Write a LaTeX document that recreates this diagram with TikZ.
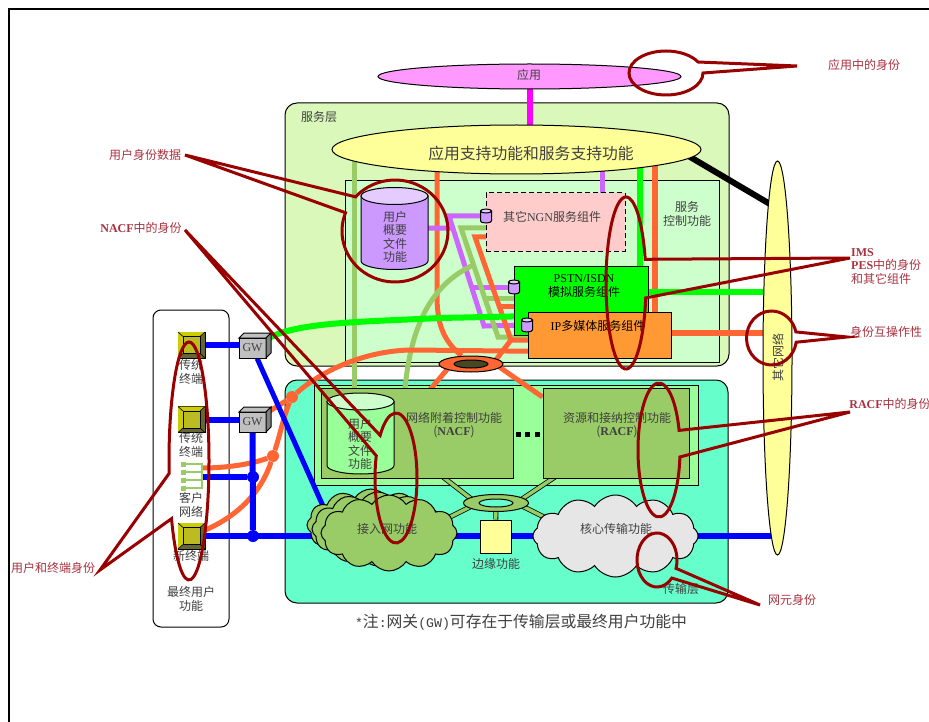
\documentclass[tikz,border=0pt]{standalone}
\usepackage{fontspec}
\setmainfont{Noto Sans CJK SC}
\newfontfamily\latinfont{Liberation Serif}
\newfontfamily\latinmono{Liberation Mono}
\usetikzlibrary{positioning, shapes.geometric, shapes.symbols}
\definecolor{bgApp}{HTML}{FF99FF}
\definecolor{bgYellow}{HTML}{FFFF99}
\definecolor{bgService}{HTML}{D9F8BA}
\definecolor{bgControl}{HTML}{CCFFCC}
\definecolor{bgTransport}{HTML}{66FFCC}
\definecolor{bgGroup}{HTML}{99FF99}
\definecolor{bgPink}{HTML}{FFCCCC}
\definecolor{bgOrange}{HTML}{FF9933}
\definecolor{bgCore}{HTML}{E6E6E6}
\definecolor{bgGate}{HTML}{C0C0C0}
\definecolor{linePurple}{HTML}{CC66FF}
\definecolor{lineLime}{HTML}{99CC66}
\definecolor{lineOrange}{HTML}{FF6633}
\definecolor{lineMagenta}{HTML}{FF00FF}
\definecolor{cylPurple}{HTML}{CC99FF}
\definecolor{cylPurpleTop}{HTML}{E5CCFF}
\definecolor{calloutRed}{HTML}{990000}
\definecolor{textRed}{HTML}{A83240}
\definecolor{textDark}{HTML}{404040}
\definecolor{termLight}{HTML}{CCCC00}
\definecolor{termDark}{HTML}{666633}
\definecolor{termFace}{HTML}{BBBB22}
\pgfdeclarelayer{panels}
\pgfdeclarelayer{wires}
\pgfsetlayers{panels,wires,main}
\tikzset{
  lbl/.style={font=\fontsize{12}{13.5}\selectfont, align=center, text=textDark, inner sep=0pt},
  redlbl/.style={lbl, text=textRed},
  panel/.style={draw=black, line width=1pt, inner sep=0pt, rounded corners=#1},
  panel/.default=0pt,
  oval/.style={ellipse, draw=black, line width=1pt, inner sep=0pt},
  wire/.style={line width=#1, line join=miter},
  wire/.default=5pt,
  port/.style={minimum width=11pt, minimum height=14pt, inner sep=0pt},
  bubble/.style={cloud, cloud puffs=12, cloud puff arc=115, aspect=2, draw=black, line width=1pt, inner sep=0pt},
  limebar/.style={draw=black, line width=.8pt, double=lineLime, double distance=3.4pt},
  dot/.style={circle, inner sep=0pt, minimum size=#1},
  callout/.style={draw=calloutRed, line width=3pt},
  pics/drumicon/.style n args={5}{code={
    \draw[black, line width=1pt, fill=#1] (-#3,-#4) -- (-#3,#4) arc[start angle=180, end angle=0, x radius=#3, y radius=#5] -- (#3,-#4) -- cycle;
    \draw[black, line width=1pt, fill=#2] (0,-#4) ellipse[x radius=#3, y radius=#5];
  }},
  terminalicon/.pic={
    \draw[black, line width=1pt, fill=termDark] (-13.5,-13) rectangle (13.5,13);
    \fill[termLight] (-13.5,-13) -- (13.5,-13) -- (8.5,-8.5) -- (-8.5,-8.5) -- (-8.5,8.5) -- (-13.5,13) -- cycle;
    \draw[black, line width=1pt, fill=termFace] (-8.5,-8.5) rectangle (8.5,8.5);
    \draw[black, line width=.6pt] (-13.5,-13) -- (-8.5,-8.5) (13.5,-13) -- (8.5,-8.5) (-13.5,13) -- (-8.5,8.5) (13.5,13) -- (8.5,8.5);
  },
  clienticon/.pic={
    \foreach \yy in {-12,-4,4,12} {
      \draw[lineLime, line width=2.6pt] (-8,\yy) -- (10,\yy);
      \fill[lineLime] (-11,\yy-2.5) rectangle (-6,\yy+2.5);
    }
    \draw[lineLime, line width=2.6pt] (10,-13) -- (10,13);
  },
  gatewayicon/.pic={
    \draw[black, line width=1pt, fill=bgGate] (-13.5,-10) -- ++(5,-5) -- ++(27,0) -- (13.5,-10) -- cycle;
    \draw[black, line width=1pt, fill=gray] (13.5,-10) -- ++(5,-5) -- ++(0,20) -- (13.5,10) -- cycle;
  },
}
\newcommand{\lat}[1]{{\latinfont #1}}
\begin{document}
\begin{tikzpicture}[x=1pt, y=-1pt]
  \useasboundingbox (0,0) rectangle (929,722);

  % layers
  \begin{pgfonlayer}{panels}
    \fill[white] (0,0) rectangle (929,722);
    \draw[line width=2pt] (9,722) -- (9,9) -- (929,9);
    \node[panel=12pt, fill=bgService, minimum width=444pt, minimum height=263pt] (serviceLayer) at (507,234.5) {};
    \node[panel, fill=bgControl, minimum width=374pt, minimum height=181pt] (controlPanel) at (532,271.5) {};
    \node[panel=12pt, fill=bgTransport, minimum width=443pt, minimum height=223pt] (transportLayer) at (506.5,491.5) {};
    \node[panel, fill=bgGroup, minimum width=384pt, minimum height=100pt] (groupPanel) at (506,435) {};
    \node[panel=8pt, fill=white, minimum width=76pt, minimum height=317pt] (endUser) at (191,468.5) {};
  \end{pgfonlayer}

  \node[oval, fill=bgApp, minimum width=303pt, minimum height=25pt] (app) at (529.5,76.5) {};
  \node[lbl] (appText) at (529,75) {应用};
  \node[oval, fill=bgYellow, minimum width=369pt, minimum height=49pt] (appSup) at (516.5,149.5) {};
  \node[lbl, font=\fontsize{15.8}{17}\selectfont] (appSupText) at (531,153) {应用支持功能和服务支持功能};
  \node[lbl] (serviceText) at (319,117) {服务层};
  \node[lbl] (controlText) at (687,214) {服务\\控制功能};

  \node[port, minimum width=67pt, minimum height=82pt] (profileA) at (394.5,228.5) {};
  \pic at (profileA) {drumicon={cylPurple}{cylPurpleTop}{33.5}{32.5}{8.5}};
  \node[lbl, font=\fontsize{12}{13.3}\selectfont] (profileAText) at (395,237) {用户\\概要\\文件\\功能};

  \node[panel, dash pattern=on 5pt off 3pt, fill=bgPink, minimum width=139pt, minimum height=58pt] (ngnBox) at (555.5,222) {};
  \node[lbl] (ngnText) at (552,217) {其它\lat{NGN}服务组件};
  \node[panel, fill=green, minimum width=134pt, minimum height=69pt] (pstnBox) at (581,300.5) {};
  \node[lbl, text=black] (pstnText) at (584,286) {\lat{PSTN/ISDN}\\模拟服务组件};
  \node[panel, fill=bgOrange, minimum width=143pt, minimum height=46pt] (ipBox) at (599.5,335) {};
  \node[lbl, text=black] (ipText) at (598,326) {\lat{IP}多媒体服务组件};
  \node[port] (ngnPort) at (486,216) {};
  \node[port] (pstnPort) at (514,287) {};
  \node[port] (ipPort) at (527,325) {};
  \pic at (ngnPort) {drumicon={cylPurple}{cylPurpleTop}{5.5}{5}{2}};
  \pic at (pstnPort) {drumicon={cylPurple}{cylPurpleTop}{5.5}{5}{2}};
  \pic at (ipPort) {drumicon={cylPurple}{cylPurpleTop}{5.5}{5}{2}};

  \node[oval, fill=lineOrange, minimum width=64pt, minimum height=16pt] (ringTop) at (471,364) {};
  \node[oval, fill=termDark!70!black, minimum width=34pt, minimum height=8pt] (ringTopHole) at (471,364) {};

  \node[panel, fill=lineLime, minimum width=192pt, minimum height=90pt] (nacfBox) at (417,433) {};
  \node[panel, fill=lineLime, minimum width=146pt, minimum height=90pt] (racfBox) at (616,433) {};
  \node[lbl] (nacfText) at (454,425) {网络附着控制功能\\(\lat{\bfseries NACF})};
  \node[lbl] (racfText) at (617,425) {资源和接纳控制功能\\(\lat{\bfseries RACF})};
  \node[port, minimum width=67pt, minimum height=81pt] (profileB) at (360.5,433.5) {};
  \pic at (profileB) {drumicon={bgGroup}{bgControl}{33.5}{32}{8.5}};
  \node[lbl, font=\fontsize{12}{13.3}\selectfont] (profileBText) at (360,444) {用户\\概要\\文件\\功能};
  \foreach \xx in {518,527,537} \fill (\xx-2.5,431.5) rectangle (\xx+2.5,436.5);

  \node[oval, fill=lineLime, minimum width=65pt, minimum height=17pt] (ringLow) at (496,503) {};
  \node[oval, fill=bgTransport, minimum width=34pt, minimum height=8pt] (ringLowHole) at (496,503) {};
  \node[panel, fill=bgYellow, minimum width=31pt, minimum height=33pt] (edgeBox) at (495.5,536.5) {};
  \node[lbl] (edgeText) at (496,564) {边缘功能};

  \node[bubble, fill=lineLime, minimum width=128pt, minimum height=72pt] (accessBack) at (371,525) {};
  \node[bubble, fill=lineLime, minimum width=132pt, minimum height=74pt] (accessMid) at (378,529) {};
  \node[bubble, fill=lineLime, minimum width=136pt, minimum height=76pt] (accessCloud) at (389,533) {};
  \node[lbl] (accessText) at (387,529) {接入网功能};
  \node[bubble, fill=bgCore, minimum width=165pt, minimum height=82pt] (coreCloud) at (615.5,536) {};
  \node[lbl] (coreText) at (616,529) {核心传输功能};
  \node[lbl] (transportText) at (681,589) {传输层};
  \node[lbl, font=\fontsize{15.8}{17}\selectfont] (noteText) at (521,622) {{\fontsize{13.2}{13}\latinmono *}注{\fontsize{13.2}{13}\latinmono :}网关{\fontsize{13.2}{13}\latinmono (GW)}可存在于传输层或最终用户功能中};

  \node[oval, fill=bgYellow, rotate=90, minimum width=394pt, minimum height=29pt] (otherNet) at (777.5,358) {};
  \node[lbl, rotate=90] (otherText) at (778,357) {其它网络};

  \node[minimum width=27pt, minimum height=26pt, inner sep=0pt] (termOldA) at (191.5,345) {};
  \node[minimum width=27pt, minimum height=26pt, inner sep=0pt] (termOldB) at (191.5,419.5) {};
  \node[minimum width=27pt, minimum height=26pt, inner sep=0pt] (termNew) at (191.5,536) {};
  \pic at (termOldA) {terminalicon};
  \pic at (termOldB) {terminalicon};
  \pic at (termNew) {terminalicon};
  \node[minimum width=20pt, minimum height=28pt, inner sep=0pt] (clientNet) at (192,476) {};
  \pic at (clientNet) {clienticon};
  \node[lbl] (termOldAText) at (191,372) {传统\\终端};
  \node[lbl] (termOldBText) at (191,445) {传统\\终端};
  \node[lbl] (clientText) at (191,505) {客户\\网络};
  \node[lbl] (termNewText) at (191,556) {新终端};
  \node[lbl] (endUserText) at (191,599) {最终用户\\功能};

  \node[panel, fill=bgGate, minimum width=27pt, minimum height=20pt] (gwA) at (252.5,348) {};
  \node[panel, fill=bgGate, minimum width=27pt, minimum height=20pt] (gwB) at (252.5,422) {};
  \node[lbl, font=\fontsize{12}{13}\latinfont] (gwAText) at (252.5,348) {GW};
  \node[lbl, font=\fontsize{12}{13}\latinfont] (gwBText) at (252.5,422) {GW};
  \pic at (gwA) {gatewayicon};
  \pic at (gwB) {gatewayicon};

  \node[dot=12pt, fill=blue] (blueDotA) at (253,477) {};
  \node[dot=12pt, fill=blue] (blueDotB) at (253,536) {};
  \node[dot=12pt, fill=lineOrange] (orangeDotA) at (292,397) {};
  \node[dot=12pt, fill=lineOrange] (orangeDotB) at (273,456) {};

  % wires
  \begin{pgfonlayer}{wires}
    \draw[wire=6pt, lineMagenta] (app) -- (app |- appSup);
    \draw[wire=6pt, black] (680,151) -- (775,207);
    \draw[wire, lineLime] (354,0 |- appSup) -- (354,0 |- profileB);
    \draw[wire, lineOrange] (437,0 |- appSup) -- (437,300) .. controls (438,325) and (443,340) .. (ringTop);
    \draw[wire, linePurple] (602,0 |- appSup) -- (602,0 |- ngnBox);
    \draw[wire=6pt, green] (640,0 |- appSup) -- (640,0 |- pstnBox);
    \draw[wire=6pt, lineOrange] (655,0 |- appSup) -- (655,0 |- ipBox);
    \draw[wire=6pt, green] (pstnBox.center |- 0,292) -- (otherNet.center |- 0,292);
    \draw[wire=6pt, lineOrange] (ipBox.center |- 0,333) -- (otherNet.center |- 0,333);

    \coordinate (purpleTop) at (449,216);
    \coordinate (purpleLow) at (484,326);
    \draw[wire, linePurple] (ngnPort) -- (purpleTop) -- (purpleLow) -- (ipPort);
    \draw[wire, linePurple] (472,287) -- (pstnPort);
    \draw[wire, linePurple] (profileA) -- (453,228);

    \coordinate (limeTop) at (461,228);
    \coordinate (limeLow) at (498,337);
    \draw[wire, lineLime] (ngnBox.center |- limeTop) -- (limeTop) -- (limeLow) -- (ipBox.center |- limeLow);
    \draw[wire, lineLime] (485,298) -- (pstnBox.center |- 0,298);
    \draw[wire, lineLime] (473.5,265) .. controls (430,285) and (403,330) .. (403,0 |- nacfBox);

    \coordinate (orangeTop) at (475,237);
    \coordinate (orangeLow) at (511,340);
    \draw[wire, lineOrange] (ngnBox.center |- orangeTop) -- (orangeTop) -- (orangeLow) -- (ipBox.center |- orangeLow);
    \draw[wire, lineOrange] (500,306) -- (pstnBox.center |- 0,306);
    \coordinate (ringTopNE) at (492,365);
    \coordinate (ringTopSW) at (450,366);
    \coordinate (ringTopSE) at (495,364);
    \draw[wire, lineOrange] (orangeLow) -- (ringTopNE);
    \draw[wire, lineOrange] (ringTopSW) -- (428,392);
    \draw[wire, lineOrange] (ringTopSE) -- (racfBox.west |- 0,397);

    \draw[wire=6pt, green] (gwA) .. controls (295,322) and (360,322) .. (440,318) -- (pstnBox.center |- 0,315);
    \draw[wire, lineOrange] (ipBox.center |- 0,352) -- (413,350) .. controls (370,350) and (325,368) .. (orangeDotA)
      .. controls (284,415) and (280,435) .. (orangeDotB) .. controls (262,490) and (240,515) .. (termNew);
    \draw[wire, lineOrange] (clientNet.east |- 0,468) .. controls (230,468) and (255,463) .. (orangeDotB);
    \draw[wire, lineOrange] (gwB) -- (orangeDotA);

    \draw[wire=6pt, blue] (termOldA) -- (gwA.center |- termOldA);
    \draw[wire=6pt, blue] (termOldB) -- (gwB.center |- termOldB);
    \coordinate (accessEntry) at (327,515);
    \draw[wire=5pt, blue] (gwA) -- (accessEntry);
    \draw[wire=6pt, blue] (gwB) -- (blueDotB);
    \draw[wire=6pt, blue] (clientNet.east |- blueDotA) -- (blueDotA);
    \draw[wire=6pt, blue] (termNew) -- (otherNet.center |- termNew);

    \coordinate (ringLowNW) at (474,501);
    \coordinate (ringLowNE) at (519,501);
    \coordinate (ringLowSW) at (470,507);
    \coordinate (ringLowSE) at (522,506);
    \draw[limebar] (443,477) -- (ringLowNW);
    \draw[limebar] (555,477) -- (ringLowNE);
    \draw[limebar] (ringLowSW) -- (440,522);
    \draw[limebar] (ringLowSE) -- (552,521);
    \draw[limebar] (ringLow) -- (edgeBox);
  \end{pgfonlayer}

  % labels outside
  \node[redlbl] (idApp) at (864,65) {应用中的身份};
  \node[redlbl] (idUser) at (145,155) {用户身份数据};
  \node[redlbl] (idNacf) at (141,228) {\lat{\bfseries NACF}中的身份};
  \node[redlbl] (idTerm) at (53,568) {用户和终端身份};
  \node[redlbl, align=left, anchor=north west] (idIms) at (851,248) {\lat{\bfseries IMS}\\\lat{\bfseries PES}中的身份\\和其它组件};
  \node[redlbl] (idInter) at (886,332) {身份互操作性};
  \node[redlbl] (idRacf) at (890,404) {\lat{\bfseries RACF}中的身份};
  \node[redlbl] (idElem) at (792,600) {网元身份};

  \coordinate (tipApp) at (797,66);
  \coordinate (tipUser) at (185,155);
  \coordinate (tipNacf) at (185,230);
  \coordinate (tipTerm) at (100,570);
  \coordinate (tipIms) at (850,258);
  \coordinate (tipInter) at (847,337);
  \coordinate (tipRacf) at (850,412);
  \coordinate (tipElem) at (760,605);

  \draw[callout] (666,73) ++(0:37 and 22) arc[start angle=0, end angle=330, x radius=37, y radius=22] -- (tipApp) -- cycle;
  \draw[callout] (395,231) ++(222:53 and 51) arc[start angle=222, end angle=561, x radius=53, y radius=51] -- (tipUser) -- cycle;
  \draw[callout] (396,478) ++(221:21 and 65) arc[start angle=221, end angle=560, x radius=21, y radius=65] -- (tipNacf) -- cycle;
  \draw[callout] (189,461) ++(174:20 and 119) arc[start angle=174, end angle=511, x radius=20, y radius=119] -- (tipTerm) -- cycle;
  \draw[callout] (626,283) ++(10:20 and 86) arc[start angle=10, end angle=344, x radius=20, y radius=86] -- (tipIms) -- cycle;
  \draw[callout] (771.5,338) ++(9:25 and 27) arc[start angle=9, end angle=347, x radius=25, y radius=27] -- (tipInter) -- cycle;
  \draw[callout] (659,450) ++(6:21 and 67) arc[start angle=6, end angle=343, x radius=21, y radius=67] -- (tipRacf) -- cycle;
  \draw[callout] (657,560) ++(42:20 and 27) arc[start angle=42, end angle=378, x radius=20, y radius=27] -- (tipElem) -- cycle;
\end{tikzpicture}
\end{document}
